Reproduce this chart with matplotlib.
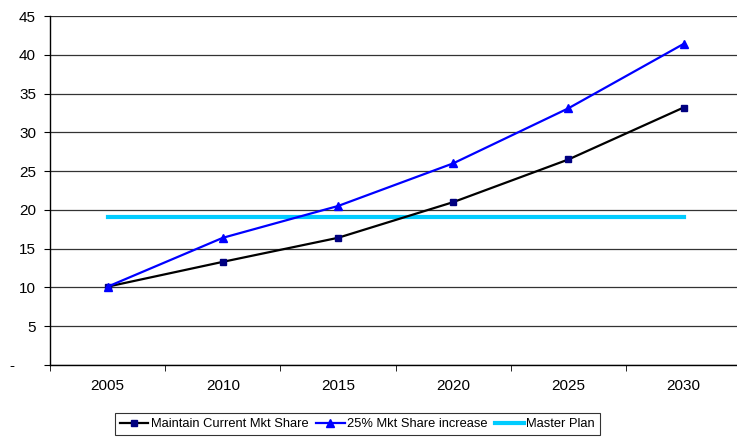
import numpy as np
import matplotlib.pyplot as plt

plt.rcParams['font.family'] = ['Liberation Sans', 'DejaVu Sans']

# data
years = ["2005", "2010", "2015", "2020", "2025", "2030"]
maintain_share = [10.1, 13.3, 16.4, 21.0, 26.5, 33.2]
share_increase = [10.1, 16.4, 20.5, 26.0, 33.1, 41.4]
master_plan = [19.1, 19.1, 19.1, 19.1, 19.1, 19.1]
y_ticks = [0, 5, 10, 15, 20, 25, 30, 35, 40, 45]
y_labels = ["-     ", "5", "10", "15", "20", "25", "30", "35", "40", "45"]

fig = plt.figure(figsize=(7.37, 4.38), dpi=100)
ax = fig.add_axes([50 / 737, 73 / 438, 691.2 / 737, 349 / 438])

x = np.arange(len(years))
ax.plot(x, maintain_share, color="black", lw=1.6, marker="s", markersize=5,
        markerfacecolor="#000080", markeredgecolor="#000080", label="Maintain Current Mkt Share", zorder=4)
ax.plot(x, share_increase, color="#0000FF", lw=1.6, marker="^", markersize=6,
        markerfacecolor="#0000FF", markeredgecolor="#0000FF", label="25% Mkt Share increase", zorder=4)
ax.plot(x, master_plan, color="#00CCFF", lw=3, label="Master Plan", zorder=3)

ax.set_xlim(-0.5, len(years) - 0.5)
ax.set_ylim(0, 45)
ax.set_yticks(y_ticks)
ax.set_yticklabels(y_labels, fontsize=11)
ax.set_xticks(x)
ax.set_xticklabels(years, fontsize=11)
ax.tick_params(axis="x", length=0, pad=10)
ax.set_xticks(np.arange(-0.5, len(years)), minor=True)
ax.tick_params(axis="x", which="minor", length=4, direction="out", color="black")
ax.tick_params(axis="y", length=4, direction="out", color="black", pad=6)

ax.grid(axis="y", color="#333333", lw=0.9)
ax.set_axisbelow(True)
for s in ["top", "right"]:
    ax.spines[s].set_visible(False)
for s in ["left", "bottom"]:
    ax.spines[s].set_color("black")
    ax.spines[s].set_linewidth(1)

leg = fig.legend(loc="upper center", bbox_to_anchor=(0.485, 25 / 438), ncol=3, fontsize=9.3,
                 frameon=True, fancybox=False, handlelength=2.2, handletextpad=0.2,
                 columnspacing=0.6, borderpad=0.4, borderaxespad=0)
leg.get_frame().set_edgecolor("black")
leg.get_frame().set_linewidth(0.8)

fig.savefig("out.png", dpi=100)
